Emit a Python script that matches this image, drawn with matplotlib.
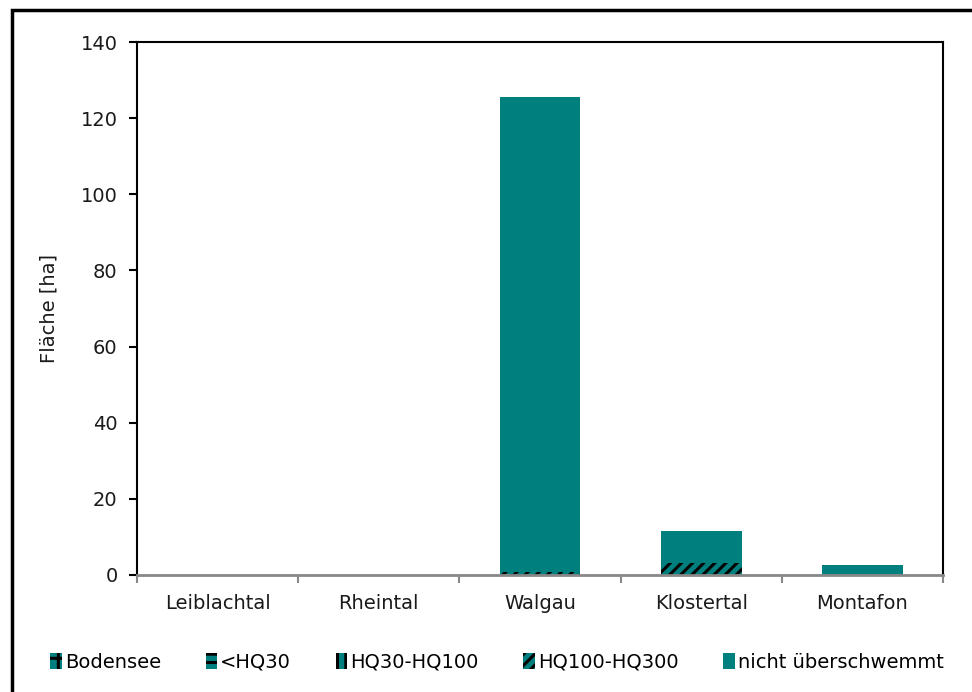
import matplotlib
matplotlib.use("Agg")
import matplotlib.pyplot as plt
import matplotlib.patches as mpatches
import numpy as np

plt.rcParams['font.family'] = ['DejaVu Sans']
plt.rcParams['hatch.linewidth'] = 2.2

regions = ["Leiblachtal", "Rheintal", "Walgau", "Klostertal", "Montafon"]
bodensee = [0, 0, 0, 0, 0]
hq30 = [0, 0, 0, 0, 0]
hq30_100 = [0, 0, 0, 0, 0]
hq100_300 = [0, 0, 0.7, 3.1, 0]
nicht = [0, 0, 124.9, 8.5, 2.6]

series_names = ["Bodensee", "<HQ30", "HQ30-HQ100", "HQ100-HQ300", "nicht überschwemmt"]
series_values = [bodensee, hq30, hq30_100, hq100_300, nicht]
series_hatch = ["+", "--", "||", "///", None]

teal = "#007F7F"
text_color = "#1a1a1a"
fs = 14

fig = plt.figure(figsize=(9.72, 6.92), dpi=100)
ax = fig.add_axes([137 / 972, 1 - 575 / 692, (943 - 137) / 972, (575 - 42) / 692])

x = np.arange(len(regions))
bottom = np.zeros(len(regions))
handles = []
for name, vals, hatch in zip(series_names, series_values, series_hatch):
    vals = np.array(vals, dtype=float)
    ax.bar(x, vals, width=0.5, bottom=bottom, color=teal,
           edgecolor="black" if hatch else teal, linewidth=0,
           hatch=hatch, label=name)
    bottom += vals
    handles.append(mpatches.Patch(facecolor=teal, edgecolor="black" if hatch else teal,
                                  hatch=hatch, linewidth=0, label=name))

ax.set_xlim(-0.5, len(regions) - 0.5)
ax.set_ylim(0, 140)
ax.set_yticks(np.arange(0, 141, 20))
ax.set_xticks(x)
ax.set_xticklabels(regions, fontsize=fs, color=text_color)
ax.set_xticks(np.arange(-0.5, len(regions), 1), minor=True)
ax.tick_params(axis="x", which="major", length=0, pad=14)
ax.tick_params(axis="x", which="minor", length=6, color="#888888", width=1.5, direction="out")
ax.tick_params(axis="y", length=6, width=1.5, color="black", labelsize=fs, labelcolor=text_color, pad=8)
ax.set_ylabel("Fläche [ha]", fontsize=fs, color=text_color, labelpad=16)

for side in ["left", "top", "right"]:
    ax.spines[side].set_color("black")
    ax.spines[side].set_linewidth(1.5)
ax.spines["bottom"].set_color("#888888")
ax.spines["bottom"].set_linewidth(2)

fig.legend(handles=handles, loc="center", bbox_to_anchor=(497 / 972, 1 - 662 / 692),
           ncol=5, frameon=False, fontsize=fs, handlelength=0.6, handleheight=0.9,
           handletextpad=0.15, columnspacing=2.3)

# outer frame around the chart
fig.patches.append(mpatches.Rectangle((12 / 972, -0.05), 1.1, 1 - 10 / 692 + 0.05,
                                      transform=fig.transFigure, fill=False,
                                      edgecolor="black", linewidth=2.5))

fig.savefig("out.png", dpi=100)
